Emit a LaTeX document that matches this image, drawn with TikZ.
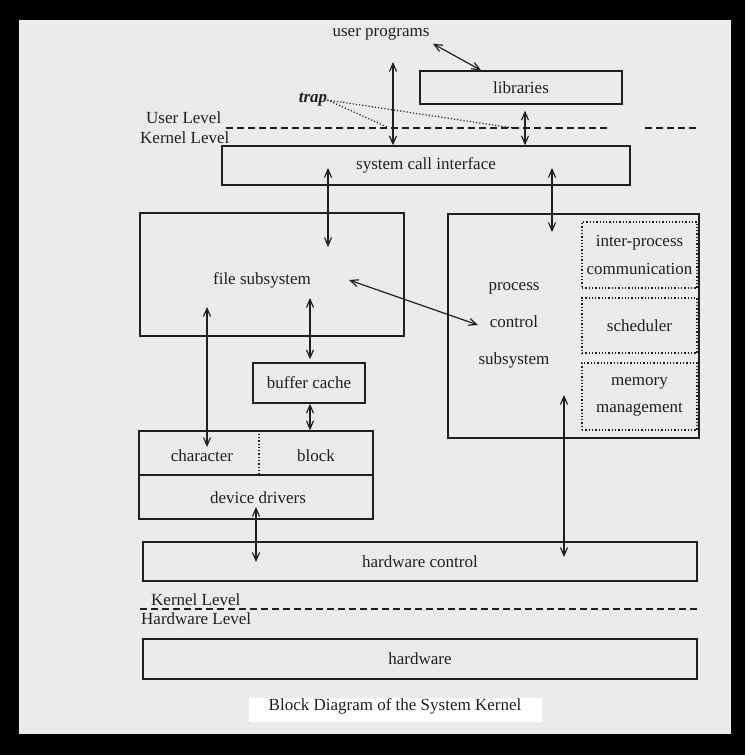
\documentclass[tikz,border=0pt]{standalone}
\usepackage{fontspec}
\setmainfont{Liberation Serif}
\usetikzlibrary{arrows.meta}
\usetikzlibrary{positioning}
\tikzset{box/.style = {draw, line width=1.4pt, inner sep=0pt},
         subbox/.style = {draw, dotted, line width=1.3pt, inner sep=0pt,
                          minimum width=115pt, align=center},
         level/.style = {anchor=west, inner sep=0pt},
         levelline/.style = {line width=1.4pt, dash pattern=on 7pt off 4pt},
         link/.style = {line width=1.2pt, {Straight Barb[length=8pt,width=7pt]}-{Straight Barb[length=8pt,width=7pt]}}}
\definecolor{ink}{gray}{0.12}
\definecolor{paper}{gray}{0.92}

\begin{document}
\begin{tikzpicture}[x=1pt, y=-1pt, color=ink, font=\fontsize{17}{20}\selectfont]
    \useasboundingbox (0, 0) rectangle (745, 755);
    \fill [black] (0, 0) rectangle (745, 755);
    \fill [paper] (19, 20) rectangle (731, 734);
    \fill [white] (249, 698) rectangle (542, 722);

    % user level
    \node (up) at (381, 34) {user programs};
    \node [box, minimum width=202pt, minimum height=33pt] (lib) at (521, 87.5) {libraries};
    \node [inner sep=0pt] (trap) at (313, 100) {\textbf{\textit{trap}}};

    \draw [levelline] (226, 128) -- (609, 128);
    \draw [levelline] (645, 128) -- (697, 128);
    \node [level] (ul) at (146, 118) {User Level};
    \node [level] (kl) at (140, 138) {Kernel Level};

    % kernel
    \node [box, minimum width=408pt, minimum height=39pt] (sci) at (426, 165.5) {system call interface};
    \node [box, minimum width=264pt, minimum height=123pt] (fs) at (272, 274.5) {};
    \node (fst) at (262, 280) {file subsystem};
    \node [box, minimum width=112pt, minimum height=40pt] (bc) at (309, 383) {buffer cache};
    \node [box, minimum width=251pt, minimum height=224pt] (pc) at (573.5, 326) {};
    \node [align=center, font=\fontsize{17}{37}\selectfont] (pcs) at (514, 325) {process\\control\\subsystem};
    \node [subbox, minimum height=66pt, font=\fontsize{17}{28}\selectfont] (ipc) at (639.5, 255) {inter-process\\communication};
    \node [subbox, minimum height=55pt] (sch) at (639.5, 325.5) {scheduler};
    \node [subbox, minimum height=67pt, font=\fontsize{17}{27}\selectfont] (mm) at (639.5, 396.5) {memory\\management};

    \node [box, minimum width=234pt, minimum height=88pt] (dd) at (256, 475) {};
    \draw [line width=1.4pt] (dd.west) -- (dd.east);
    \draw [dotted, line width=1.3pt] ([xshift=3pt]dd.north) -- ([xshift=3pt]dd.center);
    \node (chr) at (202, 456) {character};
    \node (blk) at (316, 456) {block};
    \node (ddt) at (258, 498) {device drivers};

    \node [box, minimum width=554pt, minimum height=39pt] (hwc) at (420, 561.5) {hardware control};

    \draw [levelline] (140, 609) -- (697, 609);
    \node [level] (kl2) at (151, 600) {Kernel Level};
    \node [level] (hl) at (141, 619) {Hardware Level};

    \node [box, minimum width=554pt, minimum height=40pt] (hw) at (420, 659) {hardware};
    \node (cap) at (395, 706) {Block Diagram of the System Kernel};

    % arrow ends
    \coordinate (uptop) at (393, 62);
    \coordinate (scifs) at (328, 168);
    \coordinate (fstop) at (328, 247);
    \coordinate (scipc) at (552, 168);
    \coordinate (pctop) at (552, 232);
    \coordinate (fsmid) at (349, 280);
    \coordinate (pcmid) at (478, 325);
    \coordinate (fsleft) at (207, 307);
    \coordinate (chrtop) at (207, 447);
    \coordinate (fsbot) at (310, 298);
    \coordinate (ddbot) at (256, 507);
    \coordinate (hwcdd) at (256, 562);
    \coordinate (pcbot) at (564, 395);
    \coordinate (hwcpc) at (564, 557);

    \draw [link] (up.south east) -- ([xshift=-40pt]lib.north);
    \draw [link] (uptop) -- (uptop |- sci.north);
    \draw [link] ([yshift=-6pt]lib.south -| 525, 0) -- (sci.north -| 525, 0);
    \draw [link] (scifs) -- (fstop);
    \draw [link] (scipc) -- (pctop);
    \draw [link] (fsmid) -- (pcmid);
    \draw [link] (fsleft) -- (chrtop);
    \draw [link] (fsbot) -- ([yshift=3pt]bc.north -| fsbot);
    \draw [link] (bc.south -| fsbot) -- (dd.north -| fsbot);
    \draw [link] (ddbot) -- (hwcdd);
    \draw [link] (pcbot) -- (hwcpc);

    \draw [dotted, line width=1.2pt] (trap.east) -- (513, 128);
    \draw [dotted, line width=1.2pt] (trap.east) -- (387, 127);
\end{tikzpicture}
\end{document}
